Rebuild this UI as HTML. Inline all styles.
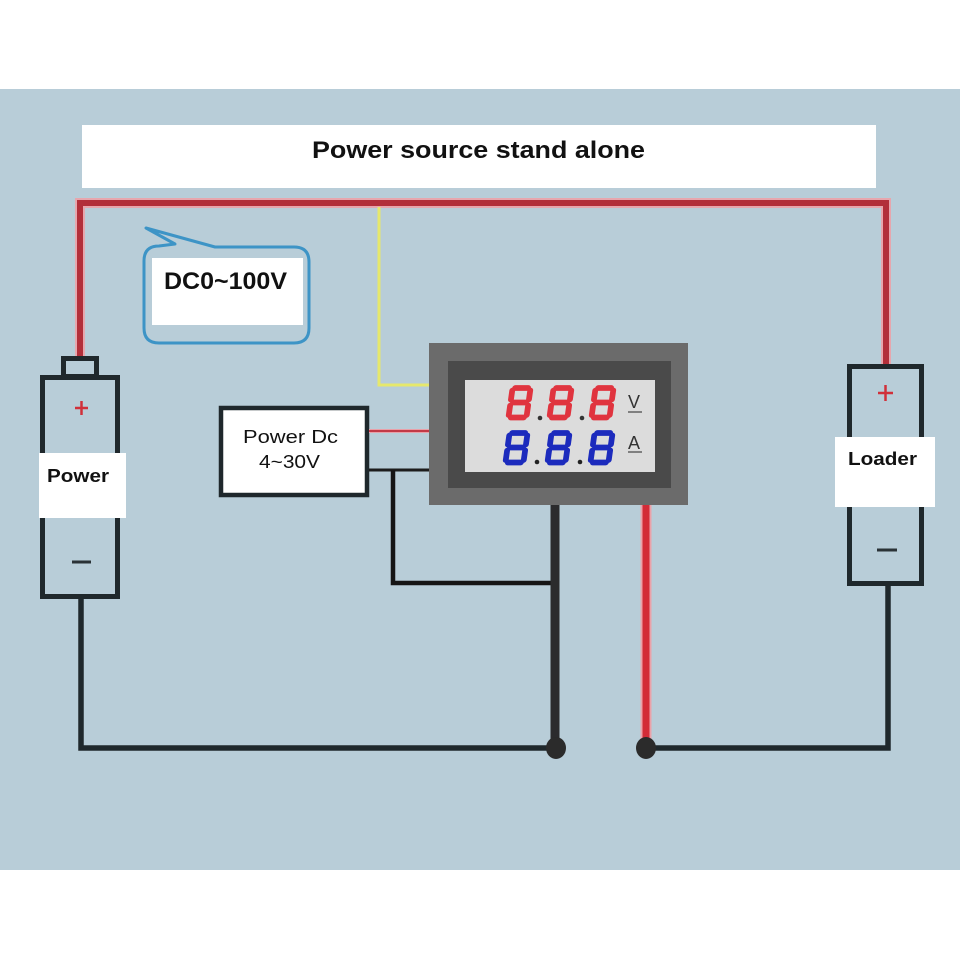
<!DOCTYPE html>
<html><head><meta charset="utf-8"><style>
html,body{margin:0;padding:0;background:#fff;}
svg{display:block;}
</style></head><body>
<svg width="960" height="960" viewBox="0 0 960 960" xmlns="http://www.w3.org/2000/svg">
<defs>
<g id="dig" fill="none" stroke-linecap="round" stroke-width="5.8">
  <line x1="5.5" y1="3" x2="18.5" y2="3"/>
  <line x1="3" y1="5.5" x2="3" y2="14.5"/>
  <line x1="21" y1="5.5" x2="21" y2="14.5"/>
  <line x1="5.5" y1="17.5" x2="18.5" y2="17.5"/>
  <line x1="3" y1="20.5" x2="3" y2="30"/>
  <line x1="21" y1="20.5" x2="21" y2="30"/>
  <line x1="5.5" y1="32.5" x2="18.5" y2="32.5"/>
</g>
</defs>
<rect x="0" y="0" width="960" height="960" fill="#ffffff"/>
<rect x="0" y="89" width="960" height="781" fill="#b8cdd8"/>

<!-- title -->
<rect x="82" y="125" width="794" height="63" fill="#ffffff"/>
<text x="312" y="158" font-family="Liberation Sans, Arial, sans-serif" font-weight="bold" font-size="24" fill="#111" textLength="333" lengthAdjust="spacingAndGlyphs">Power source stand alone</text>

<!-- red top wire -->
<polyline points="80,358 80,203 886,203 886,366" fill="none" stroke="#e7a6ad" stroke-width="10" stroke-linejoin="miter"/>
<polyline points="80,358 80,203 886,203 886,366" fill="none" stroke="#b22f3a" stroke-width="6" stroke-linejoin="miter"/>

<!-- yellow wire -->
<polyline points="379,207 379,385 432,385" fill="none" stroke="#e6e86c" stroke-width="3"/>

<!-- bubble -->
<path d="M159,246 L175,244 L146,228 L215,247 L294,247 Q309,247 309,262 L309,328 Q309,343 294,343 L159,343 Q144,343 144,328 L144,261 Q144,246 159,246 Z" fill="#b8cdd8" stroke="#3d94c6" stroke-width="3" stroke-linejoin="round"/>
<rect x="152" y="258" width="151" height="67" fill="#ffffff"/>
<text x="164" y="289" font-family="Liberation Sans, Arial, sans-serif" font-weight="bold" font-size="24" fill="#111" textLength="123" lengthAdjust="spacingAndGlyphs">DC0~100V</text>

<!-- left battery -->
<rect x="63.5" y="358.5" width="33" height="18" fill="#b8cdd8" stroke="#1f282c" stroke-width="5"/>
<rect x="42.5" y="377.5" width="75" height="219" fill="#b8cdd8" stroke="#1f282c" stroke-width="5"/>
<rect x="39" y="453" width="87" height="65" fill="#ffffff"/>
<text x="47" y="482" font-family="Liberation Sans, Arial, sans-serif" font-weight="bold" font-size="18" fill="#111" textLength="62" lengthAdjust="spacingAndGlyphs">Power</text>
<line x1="75" y1="408" x2="88" y2="408" stroke="#d0303a" stroke-width="2.5"/>
<line x1="81.5" y1="401" x2="81.5" y2="415" stroke="#d0303a" stroke-width="2.5"/>
<line x1="72" y1="562" x2="91" y2="562" stroke="#2a3236" stroke-width="3"/>

<!-- loader -->
<rect x="849.5" y="366.5" width="72" height="217" fill="#b8cdd8" stroke="#1f282c" stroke-width="5"/>
<rect x="835" y="437" width="100" height="70" fill="#ffffff"/>
<text x="848" y="465" font-family="Liberation Sans, Arial, sans-serif" font-weight="bold" font-size="18" fill="#111" textLength="69" lengthAdjust="spacingAndGlyphs">Loader</text>
<line x1="878" y1="393" x2="893" y2="393" stroke="#d0303a" stroke-width="2.5"/>
<line x1="885.5" y1="385" x2="885.5" y2="401" stroke="#d0303a" stroke-width="2.5"/>
<line x1="877" y1="550" x2="897" y2="550" stroke="#2a3236" stroke-width="3"/>

<!-- Power Dc box -->
<rect x="221" y="408" width="146" height="87" fill="#ffffff" stroke="#1f282c" stroke-width="4.5"/>
<text x="243" y="443" font-family="Liberation Sans, Arial, sans-serif" font-size="18" fill="#111" textLength="95" lengthAdjust="spacingAndGlyphs">Power Dc</text>
<text x="259" y="468" font-family="Liberation Sans, Arial, sans-serif" font-size="18" fill="#111" textLength="61" lengthAdjust="spacingAndGlyphs">4~30V</text>

<!-- thin wires to meter -->
<line x1="369" y1="431" x2="432" y2="431" stroke="#e9a0a8" stroke-width="4"/>
<line x1="369" y1="431" x2="432" y2="431" stroke="#c23a47" stroke-width="2"/>
<line x1="369" y1="470" x2="432" y2="470" stroke="#1d1d1d" stroke-width="3"/>
<polyline points="393,470 393,583 553,583" fill="none" stroke="#151515" stroke-width="4.5"/>

<!-- meter -->
<rect x="429" y="343" width="259" height="162" fill="#6b6b6b"/>
<rect x="448" y="361" width="223" height="127" fill="#4a4a4a"/>
<rect x="465" y="380" width="190" height="92" fill="#dcdcdc"/>

<!-- red digits -->
<g stroke="#e0343f">
<use href="#dig" transform="translate(510,385) skewX(-8)"/>
<use href="#dig" transform="translate(551,385) skewX(-8)"/>
<use href="#dig" transform="translate(593,385) skewX(-8)"/>
</g>
<circle cx="540" cy="418" r="2.3" fill="#333"/>
<circle cx="582" cy="418" r="2.3" fill="#333"/>
<!-- blue digits -->
<g stroke="#1c2bbd">
<use href="#dig" transform="translate(507,430) skewX(-8)"/>
<use href="#dig" transform="translate(549,430) skewX(-8)"/>
<use href="#dig" transform="translate(592,430) skewX(-8)"/>
</g>
<circle cx="537" cy="462" r="2.3" fill="#222"/>
<circle cx="580" cy="462" r="2.3" fill="#222"/>
<text x="628" y="408" font-family="Liberation Sans, Arial, sans-serif" font-size="18" fill="#333">V</text>
<line x1="628" y1="412" x2="642" y2="412" stroke="#444" stroke-width="1.2"/>
<text x="628" y="449" font-family="Liberation Sans, Arial, sans-serif" font-size="18" fill="#333">A</text>
<line x1="628" y1="452" x2="642" y2="452" stroke="#444" stroke-width="1.2"/>

<!-- bottom wires -->
<polyline points="81,597 81,748 556,748" fill="none" stroke="#1f282c" stroke-width="5.5"/>
<polyline points="646,748 888,748 888,584" fill="none" stroke="#1f282c" stroke-width="5.5"/>
<line x1="555" y1="505" x2="555" y2="748" stroke="#2b2b2d" stroke-width="9"/>
<line x1="646" y1="505" x2="646" y2="748" stroke="#eaa2aa" stroke-width="11"/>
<line x1="646" y1="505" x2="646" y2="748" stroke="#d32b37" stroke-width="7"/>
<ellipse cx="556" cy="748" rx="10" ry="11" fill="#2b2b2b"/>
<ellipse cx="646" cy="748" rx="10" ry="11" fill="#2b2b2b"/>
</svg>
</body></html>
